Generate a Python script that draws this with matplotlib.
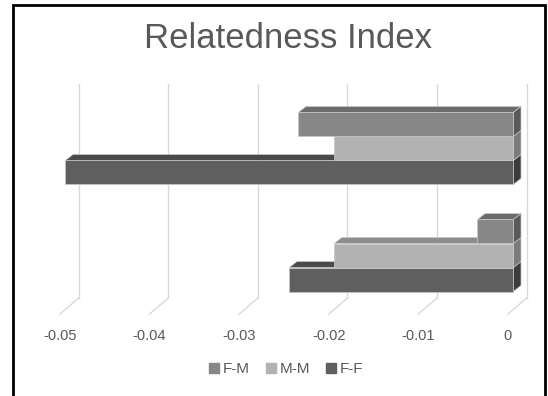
import numpy as np
import matplotlib
matplotlib.use("Agg")
import matplotlib.pyplot as plt
from matplotlib.patches import Polygon, Rectangle
from matplotlib.lines import Line2D

plt.rcParams['font.family'] = ['Liberation Sans', 'DejaVu Sans']

# data: two unnamed categories (bottom, top), three pairings
categories = [0, 1]
series = ["F-M", "M-M", "F-F"]
fm = [-0.004, -0.024]
mm = [-0.020, -0.020]
ff = [-0.025, -0.050]
ticks = [-0.05, -0.04, -0.03, -0.02, -0.01, 0]
tick_labels = ["-0.05", "-0.04", "-0.03", "-0.02", "-0.01", "0"]

front = {"F-M": "#878787", "M-M": "#b2b2b2", "F-F": "#5f5f5f"}
top = {"F-M": "#6c6c6c", "M-M": "#8d8d8d", "F-F": "#4a4a4a"}
side = {"F-M": "#5a5a5a", "M-M": "#7b7b7b", "F-F": "#3c3c3c"}

W, H = 548, 396
fig = plt.figure(figsize=(W / 100, H / 100), dpi=100)
ax = fig.add_axes([0, 0, 1, 1])

# pixel scale of the axes (value per px, category per px)
x0, sx = 513.3, 8960.0
y0, sy = 255.5, 107.0
PX, PY = 1 / sx, 1 / sy
ax.set_xlim(-x0 / sx, (W - x0) / sx)
ax.set_ylim((y0 - H) / sy, y0 / sy)
ax.axis("off")

# back-wall gridlines and floor slants
back_dx, floor_dx = 13.4 * PX, -5.3 * PX
wall_top, wall_bot, floor_front = (y0 - 84) * PY, (y0 - 298) * PY, (y0 - 314) * PY
for t in ticks:
    ax.plot([t + back_dx, t + back_dx], [wall_bot, wall_top], color="#d9d9d9", lw=1.0, zorder=1)
    ax.plot([t + back_dx, t + floor_dx], [wall_bot, floor_front], color="#d9d9d9", lw=1.0, zorder=1)

# 3d bars: front face + top face + right side face
h = 24 * PY
ddx, ddy = 7.7 * PX, 6 * PY
offsets = {"F-M": h, "M-M": 0.0, "F-F": -h}
values = {"F-M": fm, "M-M": mm, "F-F": ff}
z = 2
for name in ["F-F", "M-M", "F-M"]:
    for c, v in zip(categories, values[name]):
        yc = c + offsets[name]
        yb, yt = yc - h / 2, yc + h / 2
        ax.add_patch(Polygon([(v, yt), (0, yt), (ddx, yt + ddy), (v + ddx, yt + ddy)],
                             closed=True, fc=top[name], ec="#c8c8c8", lw=0.5, zorder=z))
        ax.add_patch(Polygon([(0, yb), (0, yt), (ddx, yt + ddy), (ddx, yb + ddy)],
                             closed=True, fc=side[name], ec="#c8c8c8", lw=0.5, zorder=z))
        z += 1
    ax.barh([c + offsets[name] for c in categories], values[name], height=h,
            color=front[name], edgecolor="#c8c8c8", linewidth=0.5, zorder=z)
    z += 1

# axis labels along the floor front edge
for t, lab in zip(ticks, tick_labels):
    ax.text(t + floor_dx, (y0 - 336) * PY, lab, ha="center", va="center",
            fontsize=10.5, color="#595959")

ax.text((288 - x0) * PX, (y0 - 48) * PY, "Relatedness Index", ha="center",
        va="baseline", fontsize=25, color="#595959")

handles = [Line2D([], [], marker="s", ls="none", markersize=6.5,
                  markerfacecolor=front[s], markeredgecolor=front[s]) for s in series]
fig.legend(handles, series, loc="center", bbox_to_anchor=(286 / W, 1 - 369 / H),
           ncol=3, frameon=False, fontsize=11, handlelength=0.7, handletextpad=0.25,
           columnspacing=1.0, labelcolor="#595959")

# chart border
fig.patches.append(Rectangle((13 / W, -0.05), (545 - 13) / W, 1.05 - 5 / H,
                             transform=fig.transFigure, fill=False, ec="black", lw=2,
                             zorder=10))

fig.savefig("out.png", dpi=100)
